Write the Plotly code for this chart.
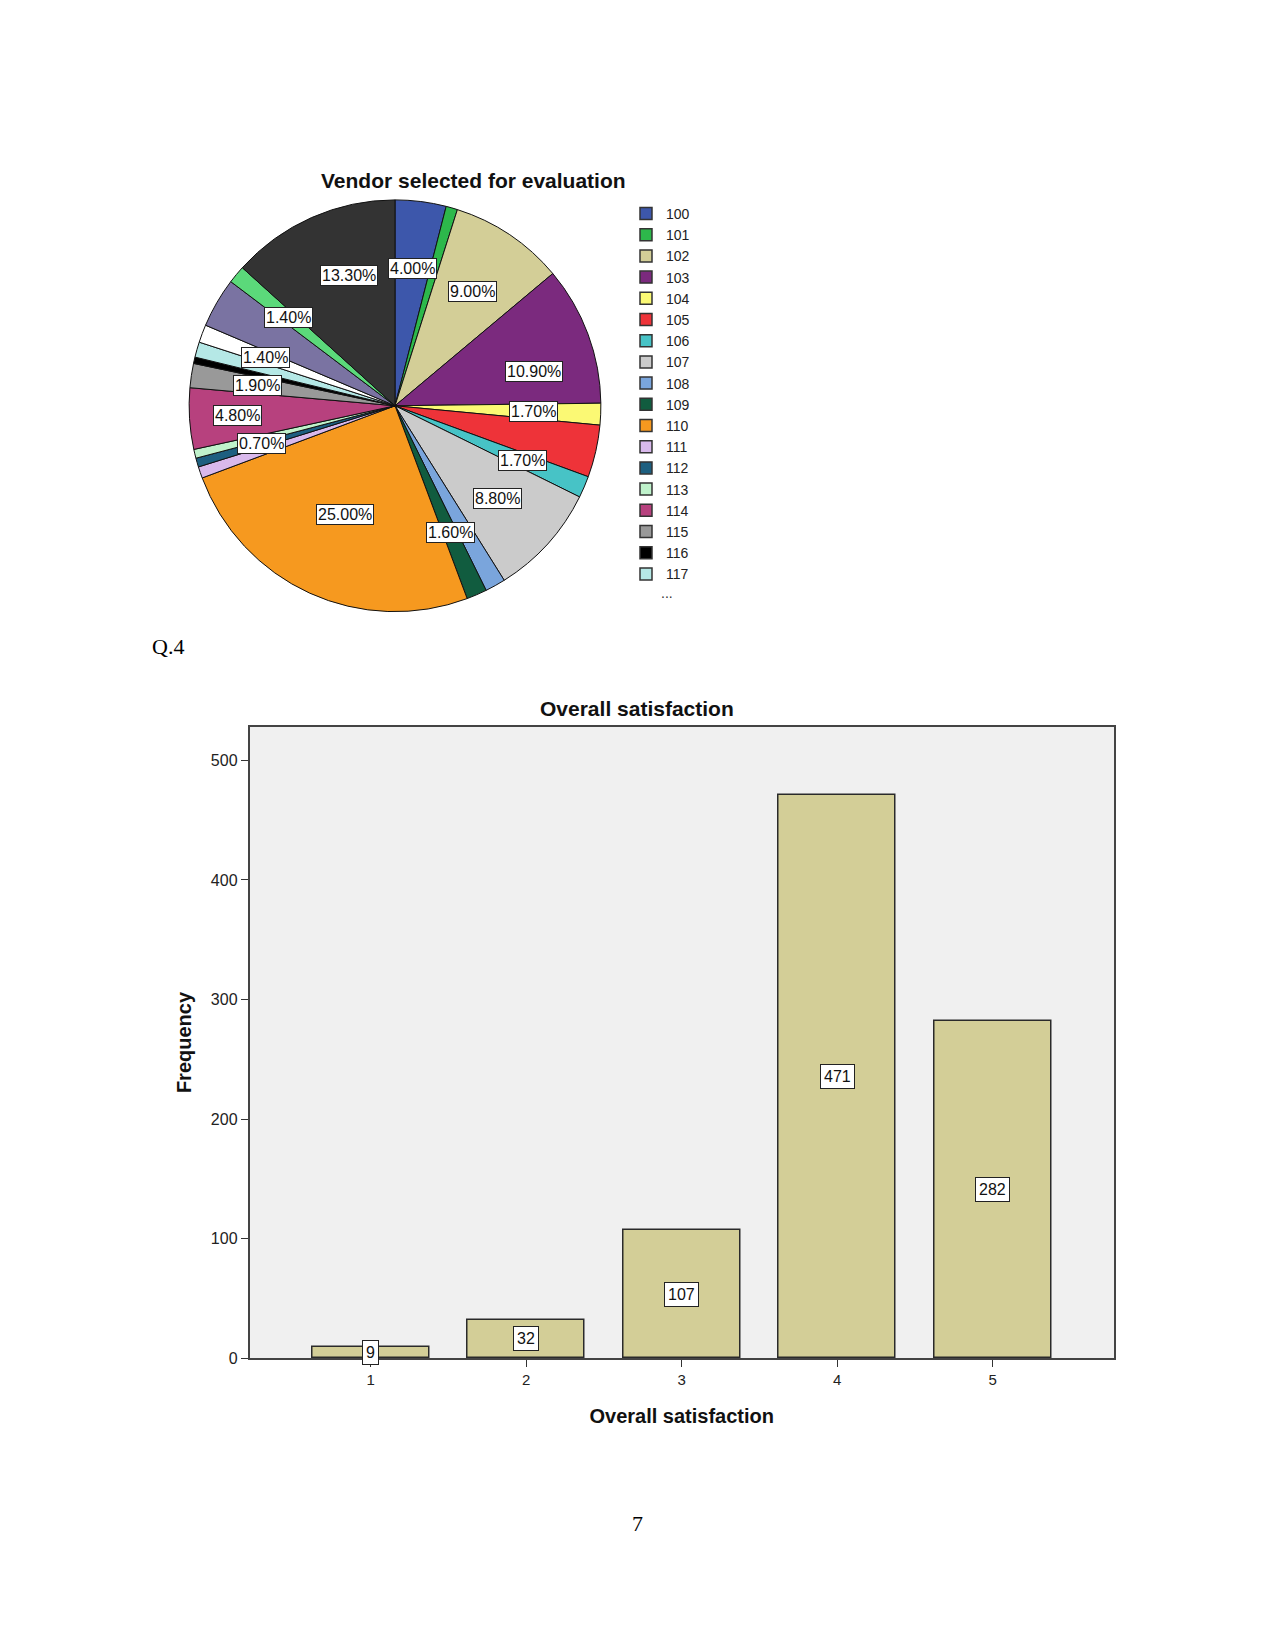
import math
import plotly.graph_objects as go

# ---------------- data ----------------
vendors = ['100', '101', '102', '103', '104', '105', '106', '107', '108', '109', '110',
           '111', '112', '113', '114', '115', '116', '117', '118', '119', '120', '121']
vendor_pct = [4.0, 0.9, 9.0, 10.9, 1.7, 4.1, 1.7, 8.8, 1.6, 1.6, 25.0,
              0.9, 0.7, 0.7, 4.8, 1.9, 0.5, 1.2, 1.4, 3.9, 1.4, 13.3]
vendor_colors = ['#3d57ab', '#2db84b', '#d3ce97', '#7b2a7e', '#fbf974', '#ee3339',
                 '#47c3c6', '#cbcbcb', '#7aa5dc', '#115c3f', '#f6991f', '#d9b9ec',
                 '#1d5f80', '#bff2cb', '#b7417e', '#999999', '#000000', '#b5e8e6',
                 '#ffffff', '#7a73a2', '#5bd97a', '#333333']
labeled_vendors = ['100', '102', '103', '104', '106', '107', '109', '110', '112',
                   '114', '115', '118', '120', '121']
legend_vendors = vendors[:18]

sat_levels = [1, 2, 3, 4, 5]
sat_freq = [9, 32, 107, 471, 282]
y_ticks = [0, 100, 200, 300, 400, 500]

# ---------------- layout constants ----------------
W, H = 1275, 1651
PCX, PCY, PR = 395, 408, 207          # pie centre / radius in px
BAR_L, BAR_R, BAR_T, BAR_B = 249.5, 1114, 731, 1365.5
# label placement tweaks: vendor -> (angle shift in degrees, radius fraction)
LABEL_TWEAK = {'103': (6.5, 0.69), '110': (0, 0.58), '114': (0, 0.76), '121': (4.7, 0.67)}

FONT = 'Liberation Sans, Arial, sans-serif'
SERIF = 'Liberation Serif, Times New Roman, serif'


def paper_note(xpx, ypx, text, font):
    return dict(x=xpx / W, y=1 - ypx / H, xref='paper', yref='paper', showarrow=False,
                xanchor='center', yanchor='middle', text=text, font=font)


fig = go.Figure()

# ---------------- pie ----------------
fig.add_trace(go.Pie(
    labels=vendors, values=vendor_pct, sort=False, direction='clockwise', rotation=0,
    marker=dict(colors=vendor_colors, line=dict(color='#111111', width=1)),
    textinfo='none', hoverinfo='label+percent', showlegend=False,
    domain=dict(x=[(PCX - PR) / W, (PCX + PR) / W], y=[1 - (PCY + PR) / H, 1 - (PCY - PR) / H]),
))

annotations = []
total = sum(vendor_pct)
cum = 0.0
for v, p in zip(vendors, vendor_pct):
    mid = (cum + p / 2) / total * 360.0
    cum += p
    if v in labeled_vendors:
        dang, f = LABEL_TWEAK.get(v, (0, 0.67))
        ang = math.radians(mid + dang)
        px = PCX + f * PR * math.sin(ang)
        py = PCY - f * PR * math.cos(ang)
        a = paper_note(px, py, f'{p:.2f}%', dict(family=FONT, size=16, color='#111'))
        a.update(bgcolor='white', bordercolor='#222', borderwidth=1, borderpad=1)
        annotations.append(a)

# legend entries via marker-only traces (no data, so nothing drawn in the plot)
for v in legend_vendors:
    c = vendor_colors[vendors.index(v)]
    fig.add_trace(go.Scatter(
        x=[None], y=[None], mode='markers', name=v, xaxis='x', yaxis='y',
        marker=dict(symbol='square', size=12, color=c, line=dict(color='#333', width=1.5)),
        showlegend=True, hoverinfo='skip'))

annotations.append(paper_note(667, 596, '...', dict(family=FONT, size=14, color='#333')))
annotations.append(paper_note(473, 181, '<b>Vendor selected for evaluation</b>',
                              dict(family=FONT, size=21, color='#111')))

# ---------------- bar chart ----------------
fig.add_trace(go.Bar(
    x=sat_levels, y=sat_freq, width=0.75, showlegend=False,
    marker=dict(color='#d3ce97', line=dict(color='#2a2a2a', width=1.5)),
    xaxis='x', yaxis='y'))

for xv, yv in zip(sat_levels, sat_freq):
    annotations.append(dict(x=xv, y=yv / 2, xref='x', yref='y', showarrow=False,
                            xanchor='center', yanchor='middle',
                            text=str(yv), font=dict(family=FONT, size=16, color='#111'),
                            bgcolor='white', bordercolor='#222', borderwidth=1, borderpad=3))

annotations.append(paper_note(637, 712, '<b>Overall satisfaction</b>',
                              dict(family=FONT, size=21, color='#111')))
annotations.append(paper_note(168, 650, 'Q.4', dict(family=SERIF, size=22, color='#000')))
annotations.append(paper_note(637, 1532, '7', dict(family=SERIF, size=22, color='#000')))

fig.update_layout(
    width=W, height=H, autosize=False,
    margin=dict(l=0, r=0, t=0, b=0, pad=0),
    paper_bgcolor='white', plot_bgcolor='#f0f0f0',
    font=dict(family=FONT, color='#222'),
    annotations=annotations,
    bargap=0,
    legend=dict(x=626 / W, y=1 - 199 / H, xanchor='left', yanchor='top',
                bgcolor='rgba(0,0,0,0)', font=dict(family=FONT, size=14, color='#222'),
                itemwidth=30, tracegroupgap=0),
    xaxis=dict(domain=[BAR_L / W, BAR_R / W], range=[0.22, 5.78], tickvals=sat_levels,
               ticktext=[str(s) for s in sat_levels], ticks='outside', ticklen=7, tickcolor='#333',
               showline=True, linecolor='#444', linewidth=1.5, mirror=True, showgrid=False,
               zeroline=False, tickfont=dict(size=15, color='#222'),
               title=dict(text='<b>Overall satisfaction</b>', font=dict(size=20, color='#111'), standoff=22)),
    yaxis=dict(domain=[1 - BAR_B / H, 1 - BAR_T / H], range=[0, 528], tickvals=y_ticks,
               ticks='outside', ticklen=7, tickcolor='#333', showline=True, linecolor='#444',
               linewidth=1.5, mirror=True, showgrid=False, zeroline=False,
               tickfont=dict(size=16, color='#222'),
               title=dict(text='<b>Frequency</b>', font=dict(size=20, color='#111'), standoff=14)),
)

fig.write_html('out.html')
